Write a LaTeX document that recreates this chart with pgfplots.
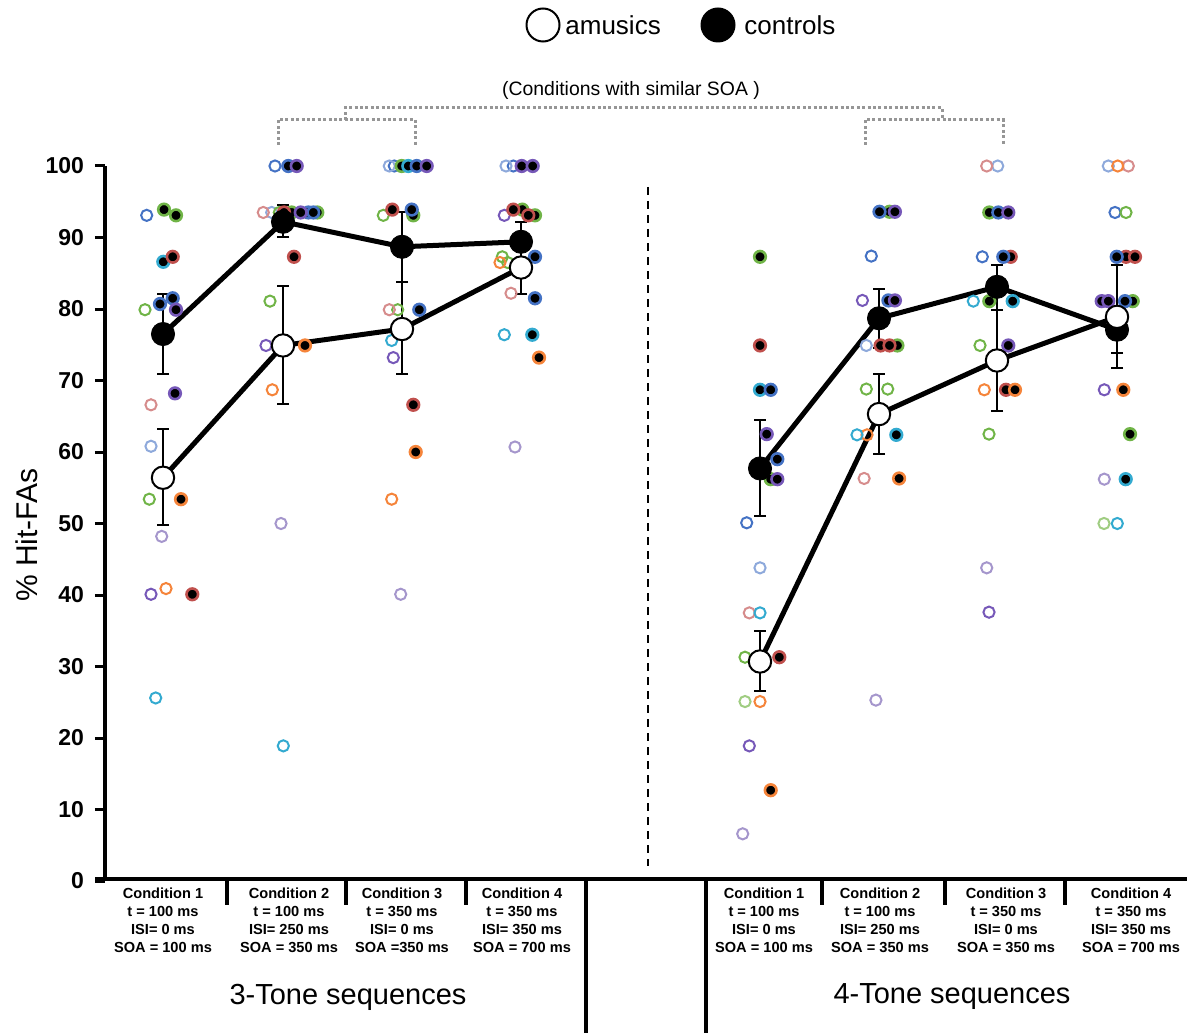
\documentclass[border=0pt]{standalone}
\usepackage{pgfplots}
\pgfplotsset{compat=1.18}
\usepackage{fontspec}
\setmainfont{Liberation Sans}
\definecolor{cBlue}{RGB}{68,114,196}
\definecolor{cLBlue}{RGB}{142,169,219}
\definecolor{cGreen}{RGB}{112,180,71}
\definecolor{cLGreen}{RGB}{160,205,130}
\definecolor{cRose}{RGB}{214,140,140}
\definecolor{cRed}{RGB}{192,80,77}
\definecolor{cCyan}{RGB}{51,170,208}
\definecolor{cOrange}{RGB}{245,132,58}
\definecolor{cPurple}{RGB}{118,88,184}
\definecolor{cLPurple}{RGB}{165,150,204}
\definecolor{cGray}{RGB}{150,150,150}
\pgfplotsset{
  am/.style={only marks, mark=o, mark size=2.8pt, color=#1, mark options={draw=#1, line width=1pt}},
  ct/.style={only marks, mark=*, mark size=2.9pt, color=#1, mark options={draw=#1, fill=black, line width=1.3pt}},
}
\begin{document}
\begin{tikzpicture}
\useasboundingbox (0,0) rectangle (593.5pt,-516pt);
\begin{axis}[
  at={(52.5pt,-440.5pt)}, anchor=south west,
  scale only axis, width=541pt, height=357.5pt,
  xmin=105, xmax=1187, ymin=0, ymax=100,
  axis x line=none, axis y line*=left,
  y axis line style={line width=2pt},
  xtick=\empty,
  ytick={0,10,...,100}, yticklabels={0,10,20,30,40,50,60,70,80,90,100},
  tick align=outside, major tick length=5pt,
  ytick style={line width=1.5pt, black},
  yticklabel style={font=\bfseries\fontsize{11.5}{13}\selectfont, black, xshift=-2pt},
  clip=false,
]
% mean lines
\addplot[black, line width=2.5pt] coordinates {(163,56.4) (283,74.9) (402,77.2) (521,85.8)};
\addplot[black, line width=2.5pt] coordinates {(163,76.5) (283,92.2) (402,88.7) (521,89.4)};
\addplot[black, line width=2.5pt] coordinates {(760,30.7) (879,65.3) (997,72.8) (1117,78.9)};
\addplot[black, line width=2.5pt] coordinates {(760,57.7) (879,78.7) (997,83.1) (1117,77.1)};
% amusics individual
\addplot[am=cBlue] coordinates {(146.7,93.1) (275,100) (394.3,100) (513.3,100) (746.7,50.1) (871.3,87.4) (982.3,87.3) (1115,93.5)};
\addplot[am=cLBlue] coordinates {(151,60.8) (271.7,93.5) (389.3,100) (506,100) (760,43.8) (866.3,74.9) (997.7,100) (1108.3,100)};
\addplot[am=cGreen] coordinates {(145,79.9) (149.3,53.4) (279.3,93.5) (270,81.1) (383.3,93.1) (397.7,79.9) (502.3,87.3) (507.7,86.5) (745,31.3) (866.3,68.8) (887.7,68.8) (980,74.9) (989,62.5) (1126,93.5)};
\addplot[am=cLGreen] coordinates {(745,25.1) (1104,50)};
\addplot[am=cRose] coordinates {(151,66.6) (263.3,93.5) (389.3,79.9) (511,82.2) (749.3,37.5) (864.1,56.3) (986.7,100) (1128.3,100)};
\addplot[am=cLPurple] coordinates {(161.7,48.2) (281,50) (400.7,40.1) (515,60.7) (742.7,6.6) (875.9,25.3) (986.7,43.8) (1104.3,56.2)};
\addplot[am=cPurple] coordinates {(151,40.1) (266,74.9) (393.3,73.2) (504.3,93.1) (749.3,18.9) (862.4,81.2) (989,37.6) (1104.3,68.7)};
\addplot[am=cOrange] coordinates {(166,40.9) (272.3,68.7) (391.7,53.4) (500,86.5) (760,25.1) (867,62.4) (984.3,68.7) (1117.7,100)};
\addplot[am=cCyan] coordinates {(155.7,25.6) (283.3,18.9) (391.7,75.6) (504.3,76.4) (760,37.5) (857,62.4) (973.3,81.1) (1117.3,50)};
% controls individual
\addplot[ct=cGreen] coordinates {(164,93.9) (176,93.1) (291.7,93.5) (317.3,93.5) (401.7,100) (413.3,93.1) (522.3,93.9) (535,93.1) (760,87.3) (770.7,56.2) (889.5,93.6) (897.4,74.9) (989.3,93.5) (989.3,81.1) (1132.7,81.1) (1130,62.5)};
\addplot[ct=cCyan] coordinates {(163.3,86.6) (408.3,100) (532.3,76.4) (760,68.7) (896.3,62.4) (1012.7,81.1) (1125.7,56.2)};
\addplot[ct=cRed] coordinates {(172.7,87.3) (192.3,40.1) (284,93.5) (294,87.3) (392.3,93.9) (413.3,66.6) (513.3,93.9) (528.3,93.1) (760,74.9) (779.3,31.3) (880.6,74.9) (889.5,74.9) (1010.7,87.3) (1006,68.7) (1126,87.3) (1135,87.3)};
\addplot[ct=cBlue] coordinates {(160,80.7) (172.7,81.5) (308.3,93.5) (313.3,93.5) (288.3,100) (416.7,100) (411.7,93.9) (419.3,79.9) (535,87.3) (535,81.5) (770.7,68.7) (777.3,59.0) (879.5,93.6) (888.4,81.2) (998.3,93.5) (1003.3,87.3) (1116.7,87.3) (1125,81.1)};
\addplot[ct=cPurple] coordinates {(176,79.9) (175,68.2) (296.7,100) (300.7,93.5) (426.7,100) (521.7,100) (532.7,100) (766.7,62.5) (777.3,56.2) (894.9,93.6) (894.9,81.2) (1008.3,93.5) (1008.3,74.9) (1101.7,81.1) (1108.3,81.1)};
\addplot[ct=cOrange] coordinates {(181,53.4) (305,74.9) (415.7,60.0) (539,73.2) (770.7,12.7) (899.1,56.3) (1015,68.7) (1123.3,68.7)};
% means with error bars
\addplot[only marks, black, mark=*, mark size=5.8pt, mark options={fill=black, draw=black},
  error bars/.cd, y dir=both, y explicit,
  error bar style={line width=1pt, black},
  error mark options={rotate=90, line width=1pt, mark size=3pt, black}]
  table[x=x, y=y, y error plus=ep, y error minus=em] {
x y ep em
163 76.5 5.6 5.6
283 92.2 2.4 2.1
402 88.7 4.8 4.9
521 89.4 2.8 2.8
760 57.7 6.8 6.7
879 78.7 4.1 4.1
997 83.1 3.1 3.2
1117 77.1 3.2 3.2
};
\addplot[only marks, black, mark=*, mark size=5.6pt, mark options={fill=white, draw=black, line width=1pt},
  error bars/.cd, y dir=both, y explicit,
  error bar style={line width=1pt, black},
  error mark options={rotate=90, line width=1pt, mark size=3pt, black}]
  table[x=x, y=y, y error plus=ep, y error minus=em] {
x y ep em
163 56.4 6.8 6.6
283 74.9 8.3 8.2
402 77.2 6.6 6.3
521 85.8 3.7 3.7
760 30.7 4.2 4.1
879 65.3 5.6 5.6
997 72.8 7.0 7.0
1117 78.9 7.2 7.2
};
\end{axis}
\begin{scope}[x=0.5pt, y=-0.5pt]
% bottom axis and separators
\draw[line width=2pt] (95,879) -- (1187,879);
\foreach \xx in {227,346,466,822,945,1065} {\draw[line width=2pt] (\xx,879) -- (\xx,905);}
\foreach \xx in {586,706} {\draw[line width=2pt] (\xx,879) -- (\xx,1034);}
% dashed divider
\draw[line width=1.3pt, dash pattern=on 4pt off 3pt] (648,187) -- (648,866);
% condition labels
\foreach \xx/\tt/\isi/\soa [count=\i] in {163/100/0/= 100,289/100/250/= 350,402/350/0/=350,522/350/350/= 700} {
  \node[anchor=north, align=center, inner sep=0pt, font=\bfseries\fontsize{7.3}{8.85}\selectfont] at (\xx,888)
    {Condition \i\\t = \tt\ ms\\ISI= \isi\ ms\\SOA \soa\ ms};
}
\foreach \xx/\tt/\isi/\soa [count=\i] in {764/100/0/100,880/100/250/350,1006/350/0/350,1131/350/350/700} {
  \node[anchor=north, align=center, inner sep=0pt, font=\bfseries\fontsize{7.3}{8.85}\selectfont] at (\xx,888)
    {Condition \i\\t = \tt\ ms\\ISI= \isi\ ms\\SOA = \soa\ ms};
}
\node[font=\fontsize{14.5}{16}\selectfont] at (348,997) {3-Tone sequences};
\node[font=\fontsize{14.5}{16}\selectfont] at (952,997) {4-Tone sequences};
% y label
\node[rotate=90, font=\fontsize{15}{17}\selectfont] at (27,535) {\% Hit-FAs};
% legend
\draw[line width=1pt, fill=white] (543,25) circle (16.5);
\node[anchor=west, inner sep=0pt, font=\fontsize{13}{15}\selectfont] at (565,25) {amusics};
\fill[black] (718,25) circle (17.5);
\node[anchor=west, inner sep=0pt, font=\fontsize{13}{15}\selectfont] at (744,25) {controls};
% annotation
\node[font=\fontsize{9.7}{11}\selectfont] at (631,90) {(Conditions with similar SOA )};
\begin{scope}[cGray, line width=1.5pt, dash pattern=on 1.5pt off 1.2pt]
\draw (278,145) -- (278,120) -- (415,120) -- (415,145);
\draw (865,145) -- (865,120) -- (1003,120) -- (1003,145);
\draw (345,120) -- (345,108) -- (942,108) -- (942,120);
\end{scope}
\end{scope}
\end{tikzpicture}
\end{document}
